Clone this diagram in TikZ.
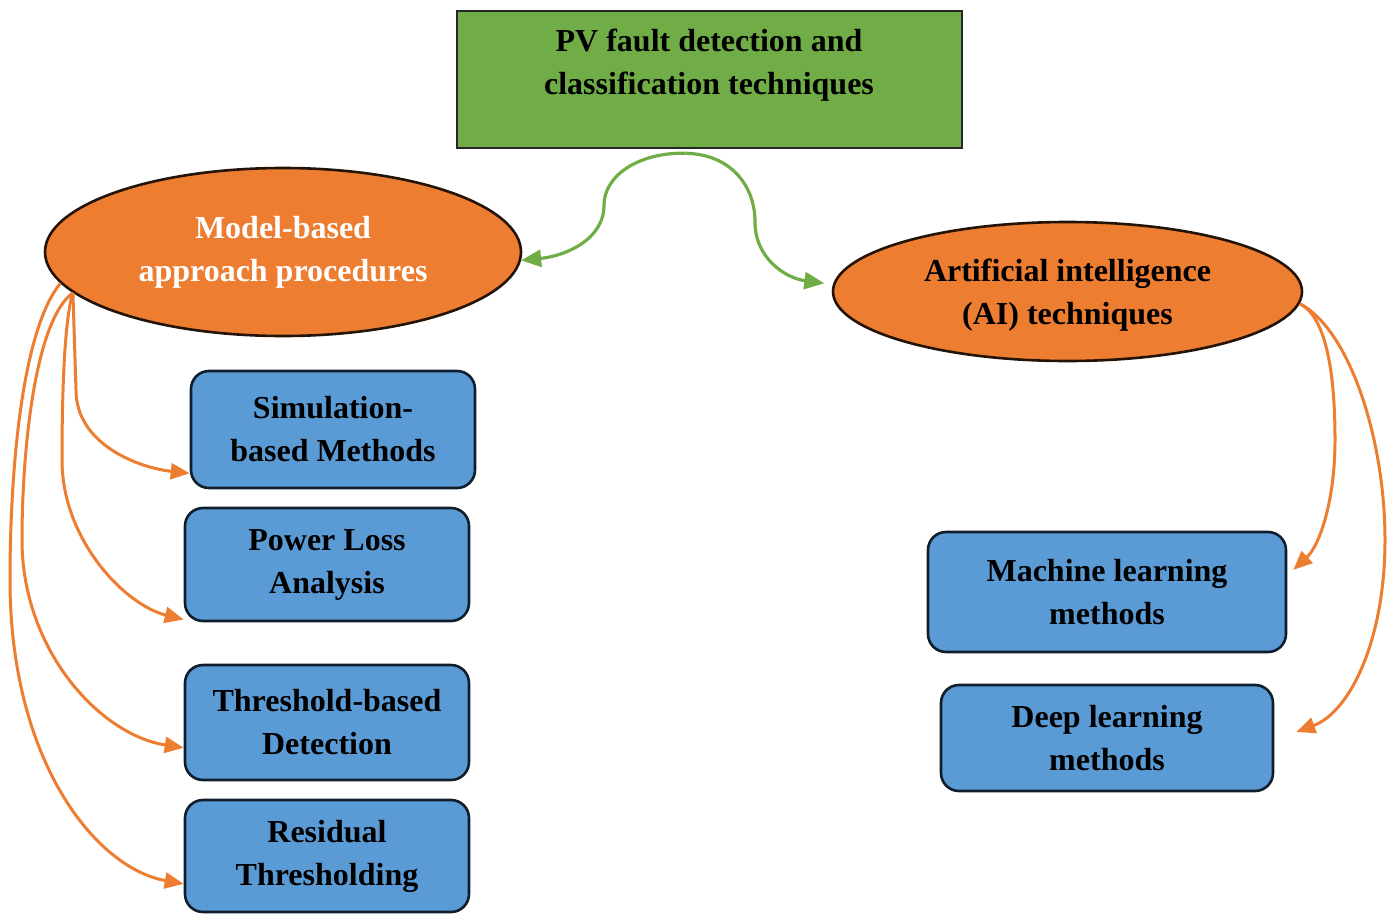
\documentclass[tikz,border=0pt]{standalone}
\usepackage{fontspec}
\setmainfont{Liberation Serif}
\usetikzlibrary{arrows.meta,shapes.geometric}
\definecolor{pvgreen}{HTML}{70AD47}
\definecolor{pvorange}{HTML}{ED7D31}
\definecolor{pvblue}{HTML}{5B9BD5}
\definecolor{pvnavy}{HTML}{0F1E2D}
\tikzset{
	bigfont/.style={font=\bfseries\fontsize{32}{43}\selectfont},
	rootbox/.style={draw=black!85, line width=2.6pt, fill=pvgreen, minimum width=505pt, minimum height=137pt, inner sep=0pt},
	familyoval/.style={ellipse, draw=black!85!pvorange, line width=2.6pt, fill=pvorange, inner sep=0pt, align=center, bigfont},
	methodbox/.style={draw=pvnavy, line width=2.6pt, fill=pvblue, rounded corners=18pt, inner sep=0pt, align=center, bigfont},
	greenarrow/.style={draw=pvgreen, line width=3.2pt, -{Triangle[length=20pt,width=17pt]}},
	orangearrow/.style={draw=pvorange, line width=3pt, -{Triangle[length=19pt,width=16pt]}}
}

\begin{document}
\begin{tikzpicture}[x=1pt,y=-1pt]
			%%%%% START %%%%%
			\useasboundingbox (0,0) rectangle (1394,913);
			
			\node[rootbox] (pv) at (709.5,79.5) {};
			\node[bigfont, align=center] (pvtext) at (709,65) {PV fault detection and\\classification techniques};
			
			\node[familyoval, text=white, minimum width=476pt, minimum height=168pt] (mba) at (283,252) {Model-based\\approach procedures};
			\node[familyoval, minimum width=469pt, minimum height=139pt] (ai) at (1067.5,291.5) {\strut Artificial intelligence\\(AI) techniques};
			
			\node[methodbox, minimum width=284pt, minimum height=117pt] (sim) at (333,429.5) {Simulation-\\based Methods};
			\node[methodbox, minimum width=284pt, minimum height=113pt] (pl) at (327,564.5) {Power Loss\\Analysis};
			\node[methodbox, minimum width=284pt, minimum height=115pt] (td) at (327,722.5) {Threshold-based\\Detection};
			\node[methodbox, minimum width=284pt, minimum height=112pt] (rt) at (327,856) {Residual\\Thresholding};
			
			\node[methodbox, minimum width=358pt, minimum height=120pt] (ml) at (1107,592) {Machine learning\\methods};
			\node[methodbox, minimum width=332pt, minimum height=106pt] (dl) at (1107,738) {Deep learning\\methods};
			
			% root to the two families
			\draw[greenarrow] ([xshift=-24pt,yshift=-4pt]pv.south) .. controls (640,152) and (604,175) .. (604,205) .. controls (604,240) and (565,256) .. (mba.-2);
			\draw[greenarrow] ([xshift=-24pt,yshift=-4pt]pv.south) .. controls (730,154) and (755,185) .. (755,222) .. controls (755,258) and (785,278) .. ([xshift=-9pt]ai.178);
			
			% model-based methods
			\draw[orangearrow] (mba.191) -- (76,390) .. controls (76,445) and (140,468) .. (sim.197);
			\draw[orangearrow] (mba.191) .. controls (64,320) and (62,400) .. (62,460) .. controls (62,540) and (125,605) .. (pl.201);
			\draw[orangearrow] (mba.191) .. controls (35,320) and (22,450) .. (22,540) .. controls (22,650) and (100,735) .. (td.190);
			\draw[orangearrow] (mba.188) .. controls (22,330) and (10,470) .. (10,580) .. controls (10,760) and (95,868) .. (rt.191);
			
			% AI methods
			\draw[orangearrow] (ai.-3) .. controls (1328,318) and (1335,380) .. (1335,440) .. controls (1335,500) and (1320,545) .. ([xshift=6pt]ml.7);
			\draw[orangearrow] (ai.-3) .. controls (1350,330) and (1385,440) .. (1385,540) .. controls (1385,640) and (1350,712) .. ([xshift=22pt,yshift=6pt]dl.east);
			
			%%%%% END %%%%%
\end{tikzpicture}
\end{document}
